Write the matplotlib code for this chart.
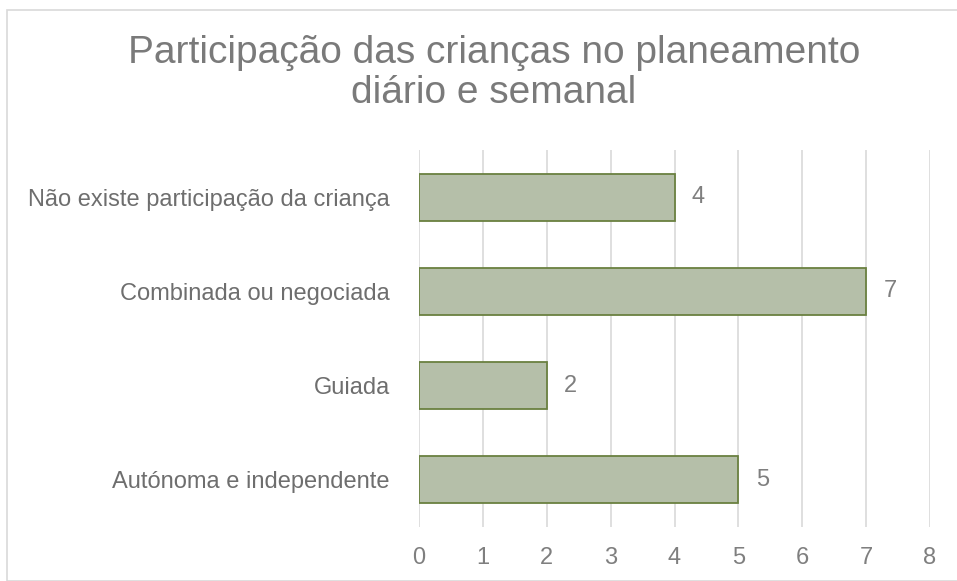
import matplotlib
matplotlib.use("Agg")
import matplotlib.pyplot as plt
from matplotlib.patches import Rectangle

categories = ["Autónoma e independente", "Guiada", "Combinada ou negociada",
              "Não existe participação da criança"]
values = [5, 2, 7, 4]
xticks = [0, 1, 2, 3, 4, 5, 6, 7, 8]
title = "Participação das crianças no planeamento\ndiário e semanal"

plt.rcParams['font.family'] = ['Liberation Sans', 'DejaVu Sans']
W, H = 957, 581
fig = plt.figure(figsize=(W / 100, H / 100), dpi=100)
fig.patch.set_facecolor("white")

# chart border
fig.add_artist(Rectangle((7 / W, 0), 1.0, 1 - 10 / H, transform=fig.transFigure,
                         fill=False, edgecolor="#D9D9D9", linewidth=1.2))

ax = fig.add_axes([419 / W, 1 - 527 / H, (930 - 419) / W, (527 - 150) / H])
ypos = list(range(len(categories)))
ax.barh(ypos, values, height=0.5, color="#B5BFA9", edgecolor="#6A8040",
        linewidth=1.3, zorder=3)
for y, v in zip(ypos, values):
    ax.text(v + 0.27, y, str(v), va="center", ha="left", fontsize=17,
            color="#7F7F7F")

ax.set_xlim(0, 8)
ax.set_ylim(-0.5, 3.5)
ax.set_xticks(xticks)
ax.set_xticklabels([str(t) for t in xticks], fontsize=17, color="#7F7F7F")
ax.set_yticks(ypos)
ax.set_yticklabels(categories, fontsize=17, color="#6E6E6E")
ax.tick_params(axis="both", length=0)
ax.tick_params(axis="x", pad=14.5)
ax.tick_params(axis="y", pad=21)
ax.xaxis.grid(True, color="#D9D9D9", linewidth=1.2, zorder=0)
for s in ax.spines.values():
    s.set_visible(False)

fig.text(494 / W, 1 - 73 / H, title, ha="center", va="center",
         fontsize=28, color="#7A7A7A", linespacing=1.17)

fig.savefig("out.png", dpi=100)
